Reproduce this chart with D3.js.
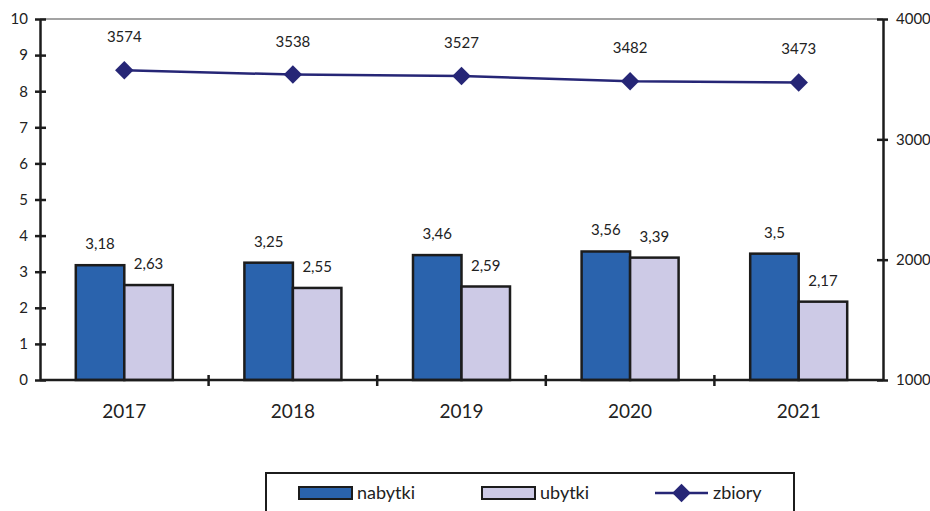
<!DOCTYPE html>
<html>
<head>
<meta charset="utf-8">
<script src="https://cdn.jsdelivr.net/npm/d3@7"></script>
<style>
  body { margin: 0; background: #fff; }
  svg { display: block; font-family: Lato, "Open Sans", sans-serif; }
</style>
</head>
<body>
<div id="chart"></div>
<script>
const years = ["2017", "2018", "2019", "2020", "2021"];
const nabytki = [3.18, 3.25, 3.46, 3.56, 3.5];
const ubytki = [2.63, 2.55, 2.59, 3.39, 2.17];
const zbiory = [3574, 3538, 3527, 3482, 3473];
const leftTicks = [0, 1, 2, 3, 4, 5, 6, 7, 8, 9, 10];
const rightTicks = [1000, 2000, 3000, 4000];

const W = 930, H = 511;
const plot = { left: 40, right: 883, top: 19, bottom: 380 };
const fmt = v => String(v).replace(".", ",");

const svg = d3.select("#chart").append("svg")
    .attr("width", W)
    .attr("height", H);

const x = d3.scaleBand()
    .domain(years)
    .range([plot.left, plot.right]);

const yL = d3.scaleLinear().domain([0, 10]).range([plot.bottom, plot.top]);
const yR = d3.scaleLinear().domain([1000, 4000]).range([plot.bottom, plot.top]);

const barW = 48.5;

// top gridline
svg.append("line")
    .attr("x1", plot.left).attr("x2", plot.right)
    .attr("y1", yL(10)).attr("y2", yL(10))
    .attr("stroke", "#a3a3a3")
    .attr("stroke-width", 2);

// bars
const groups = svg.append("g")
    .selectAll("g")
    .data(years)
    .join("g");

groups.append("rect")
    .attr("x", d => x(d) + x.bandwidth() / 2 - barW)
    .attr("y", (d, i) => yL(nabytki[i]))
    .attr("width", barW)
    .attr("height", (d, i) => yL(0) - yL(nabytki[i]))
    .attr("fill", "#2a63ad")
    .attr("stroke", "#1c1c1c")
    .attr("stroke-width", 2.5);

groups.append("rect")
    .attr("x", d => x(d) + x.bandwidth() / 2)
    .attr("y", (d, i) => yL(ubytki[i]))
    .attr("width", barW)
    .attr("height", (d, i) => yL(0) - yL(ubytki[i]))
    .attr("fill", "#cdcae6")
    .attr("stroke", "#1c1c1c")
    .attr("stroke-width", 2.5);

groups.append("text")
    .attr("x", d => x(d) + x.bandwidth() / 2 - barW / 2)
    .attr("y", (d, i) => yL(nabytki[i]) - 16)
    .attr("text-anchor", "middle")
    .attr("font-size", 15)
    .attr("fill", "#222")
    .text((d, i) => fmt(nabytki[i]));

groups.append("text")
    .attr("x", d => x(d) + x.bandwidth() / 2 + barW / 2)
    .attr("y", (d, i) => yL(ubytki[i]) - 16)
    .attr("text-anchor", "middle")
    .attr("font-size", 15)
    .attr("fill", "#222")
    .text((d, i) => fmt(ubytki[i]));

// axes
const axisStyle = g => {
    g.selectAll("path, line").attr("stroke", "#1c1c1c").attr("stroke-width", 2.5);
    g.selectAll("text").attr("font-family", "Lato, 'Open Sans', sans-serif").attr("fill", "#222");
};

const leftAxis = svg.append("g")
    .attr("transform", `translate(${plot.left},0)`)
    .call(d3.axisLeft(yL).tickValues(leftTicks).tickSize(5).tickSizeOuter(0).tickPadding(7))
    .call(axisStyle);
leftAxis.selectAll("text").attr("font-size", 15);
leftAxis.selectAll(".tick line").attr("x1", 6).attr("x2", -5);

const rightAxis = svg.append("g")
    .attr("transform", `translate(${plot.right},0)`)
    .call(d3.axisRight(yR).tickValues(rightTicks).tickFormat(d3.format("d"))
        .tickSize(5).tickSizeOuter(0).tickPadding(8))
    .call(axisStyle);
rightAxis.selectAll("text").attr("font-size", 15);
rightAxis.selectAll(".tick line").attr("x1", -6).attr("x2", 5);

const xTicks = years.map(y => x(y)).slice(1);
const bottomAxis = svg.append("g")
    .attr("transform", `translate(0,${plot.bottom})`);
bottomAxis.append("line")
    .attr("x1", plot.left).attr("x2", plot.right)
    .attr("stroke", "#1c1c1c").attr("stroke-width", 2.5);
bottomAxis.selectAll(".xt")
    .data(xTicks)
    .join("line")
    .attr("class", "xt")
    .attr("x1", d => d).attr("x2", d => d)
    .attr("y1", -5).attr("y2", 6)
    .attr("stroke", "#1c1c1c").attr("stroke-width", 2.5);
bottomAxis.selectAll(".xl")
    .data(years)
    .join("text")
    .attr("class", "xl")
    .attr("x", d => x(d) + x.bandwidth() / 2)
    .attr("y", 38)
    .attr("text-anchor", "middle")
    .attr("font-size", 19)
    .attr("fill", "#222")
    .text(d => d);

// line series
const xc = d => x(d) + x.bandwidth() / 2;
const line = d3.line()
    .x((d, i) => xc(years[i]))
    .y(d => yR(d));

svg.append("path")
    .datum(zbiory)
    .attr("d", line)
    .attr("fill", "none")
    .attr("stroke", "#262676")
    .attr("stroke-width", 2.5);

const diamond = d3.symbol().type(d3.symbolSquare).size(170);
svg.append("g")
    .selectAll("path")
    .data(zbiory)
    .join("path")
    .attr("d", diamond)
    .attr("transform", (d, i) => `translate(${xc(years[i])},${yR(d)}) rotate(45)`)
    .attr("fill", "#262676");

svg.append("g")
    .selectAll("text")
    .data(zbiory)
    .join("text")
    .attr("x", (d, i) => xc(years[i]))
    .attr("y", d => yR(d) - 28)
    .attr("text-anchor", "middle")
    .attr("font-size", 15)
    .attr("fill", "#222")
    .text(d => d);

// legend
const legend = svg.append("g");
legend.append("rect")
    .attr("x", 266).attr("y", 473)
    .attr("width", 528).attr("height", 50)
    .attr("fill", "#fff")
    .attr("stroke", "#1c1c1c")
    .attr("stroke-width", 2);

const legendItems = [
    { name: "nabytki", type: "bar", fill: "#2a63ad", x: 299 },
    { name: "ubytki", type: "bar", fill: "#cdcae6", x: 482 },
    { name: "zbiory", type: "line", fill: "#262676", x: 655 }
];
const li = legend.selectAll("g")
    .data(legendItems)
    .join("g")
    .attr("transform", d => `translate(${d.x},0)`);

li.filter(d => d.type === "bar").append("rect")
    .attr("x", 0).attr("y", 487)
    .attr("width", 53).attr("height", 12)
    .attr("fill", d => d.fill)
    .attr("stroke", "#1c1c1c")
    .attr("stroke-width", 2);

li.filter(d => d.type === "line").append("line")
    .attr("x1", 0).attr("x2", 53)
    .attr("y1", 493).attr("y2", 493)
    .attr("stroke", d => d.fill)
    .attr("stroke-width", 2.5);
li.filter(d => d.type === "line").append("path")
    .attr("d", diamond)
    .attr("transform", "translate(26.5,493) rotate(45)")
    .attr("fill", d => d.fill);

li.append("text")
    .attr("x", 58)
    .attr("y", 499)
    .attr("font-size", 18)
    .attr("fill", "#222")
    .text(d => d.name);
</script>
</body>
</html>
